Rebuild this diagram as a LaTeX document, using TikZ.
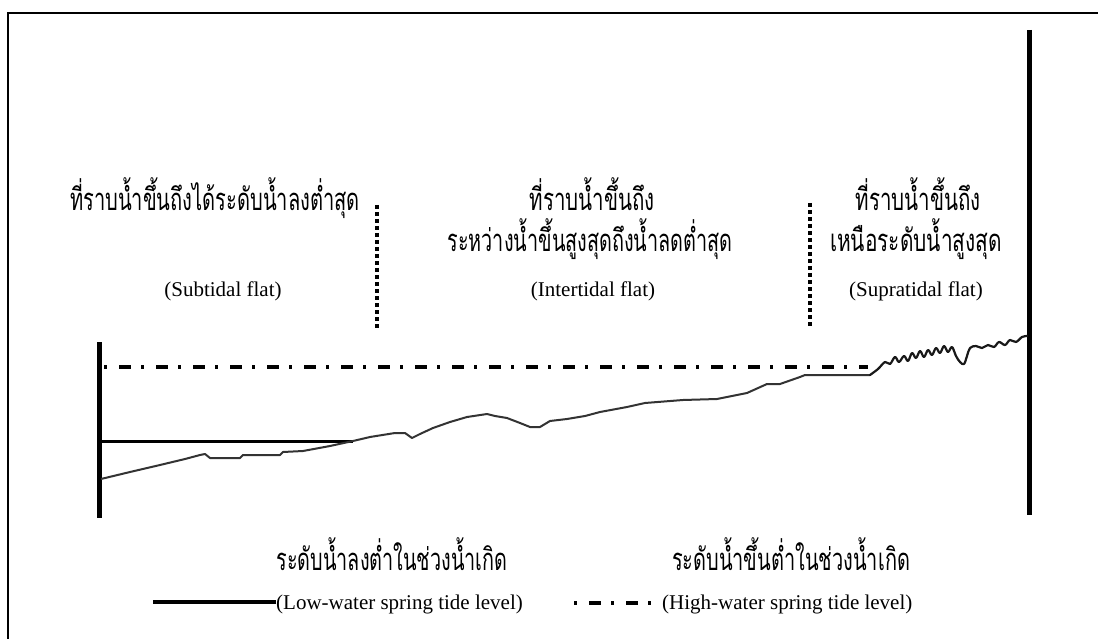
\documentclass[tikz,border=0pt]{standalone}
\usepackage{fontspec}
\usepackage{graphicx}
\setmainfont{Liberation Serif}
\newfontfamily\thaifont[Script=Thai]{Loma}
\newlength\fitlen
\newcommand\fitto[2]{\settowidth\fitlen{#2}\pgfmathsetmacro\fitsx{#1/\fitlen}\scalebox{\fitsx}[1]{#2}}
\tikzset{
  thai/.style={font=\thaifont\fontsize{31}{33}\selectfont, inner sep=0pt, anchor=base},
  eng/.style={font=\fontsize{21}{24}\selectfont, inner sep=0pt, anchor=base},
  bar/.style={line width=5pt},
  frameline/.style={line width=2pt},
  hwl/.style={line width=3.5pt, dash pattern=on 3pt off 12pt on 12pt off 10pt},
  lwl/.style={line width=3pt},
  zone/.style={line width=3.5pt, dash pattern=on 4pt off 3pt},
  profile/.style={line width=2pt, black!80, line join=round},
  squig/.style={line width=2.2pt, black!90, line join=round, line cap=round},
}
\begin{document}
\begin{tikzpicture}[x=1pt,y=-1pt]
\path[use as bounding box, fill=white] (0,0) rectangle (1098,639);
% frame
\coordinate (fbl) at (8,639);
\coordinate (ftl) at (8,13);
\coordinate (ftr) at (1098,13);
\draw[frameline] (fbl) -- (ftl) -- (ftr);
% thick bars
\coordinate (lbt) at (99,342);
\coordinate (lbb) at (99,518);
\coordinate (rbt) at (1029,30);
\coordinate (rbb) at (1029,515);
\draw[bar] (lbt) -- (lbb);
\draw[bar] (rbt) -- (rbb);
% high water line
\coordinate (hws) at (104,367);
\coordinate (hwe) at (868,367);
\draw[hwl] (hws) -- (hwe);
% low water line
\coordinate (lws) at (100,441);
\coordinate (lwe) at (353,441);
\draw[lwl] (lws) -- (lwe);
% zone separators
\coordinate (z1t) at (377,205);
\coordinate (z1b) at (377,330);
\coordinate (z2t) at (810,203);
\coordinate (z2b) at (810,328);
\draw[zone] (z1t) -- (z1b);
\draw[zone] (z2t) -- (z2b);
% ground profile
\draw[profile] (101,479) -- (130,472) -- (160,465) -- (185,459) -- (200,455) -- (205,454) -- (210,458) -- (240,458) -- (243,455) -- (280,455) -- (283,452) -- (303,451) -- (330,446) -- (353,441) -- (370,437) -- (395,433) -- (405,433) -- (412,438) -- (420,434) -- (433,428) -- (450,422) -- (467,417) -- (487,414) -- (495,416) -- (507,418) -- (520,423) -- (530,427) -- (540,427) -- (550,421) -- (567,419) -- (585,416) -- (600,412) -- (627,407) -- (645,403) -- (683,400) -- (717,399) -- (747,393) -- (767,384) -- (780,384) -- (800,377) -- (805,375) -- (870,375);
\draw[squig] plot[smooth, tension=0.6] coordinates {(870,375) (878,369) (885,362) (890,364) (895,357) (899,362) (904,356) (908,361) (912,353) (916,358) (920,351) (924,357) (928,350) (932,355) (936,348) (940,353) (944,346) (948,352) (952,347) (956,356) (960,362) (964,364) (967,356) (970,348) (976,346) (982,348) (988,345) (994,347) (999,342) (1005,345) (1010,340) (1016,342) (1022,337) (1027,336)};
% zone labels
\node[thai] (t1) at (215,211) {\fitto{290}{ที่ราบน้ำขึ้นถึงได้ระดับน้ำลงต่ำสุด}};
\node[eng] (e1) at (223,296) {(Subtidal flat)};
\node[thai] (t2a) at (592,211) {\fitto{125}{ที่ราบน้ำขึ้นถึง}};
\node[thai] (t2b) at (590,252) {\fitto{285}{ระหว่างน้ำขึ้นสูงสุดถึงน้ำลดต่ำสุด}};
\node[eng] (e2) at (593,296) {(Intertidal flat)};
\node[thai] (t3a) at (918,211) {\fitto{125}{ที่ราบน้ำขึ้นถึง}};
\node[thai] (t3b) at (916,252) {\fitto{172}{เหนือระดับน้ำสูงสุด}};
\node[eng] (e3) at (916,296) {(Supratidal flat)};
% legend
\node[thai] (lg1) at (392,570) {\fitto{231}{ระดับน้ำลงต่ำในช่วงน้ำเกิด}};
\node[thai] (lg2) at (791,570) {\fitto{238}{ระดับน้ำขึ้นต่ำในช่วงน้ำเกิด}};
\node[eng, anchor=base west] (lge1) at (276,609) {(Low-water spring tide level)};
\node[eng, anchor=base west] (lge2) at (662,609) {(High-water spring tide level)};
\coordinate (ls1) at (153,602);
\draw[lwl, line width=3.5pt] (ls1) -- (lge1.west |- ls1);
\coordinate (ld1) at (574,603);
\draw[hwl] (ld1) -- ([xshift=-1pt]lge2.west |- ld1);
\end{tikzpicture}
\end{document}
